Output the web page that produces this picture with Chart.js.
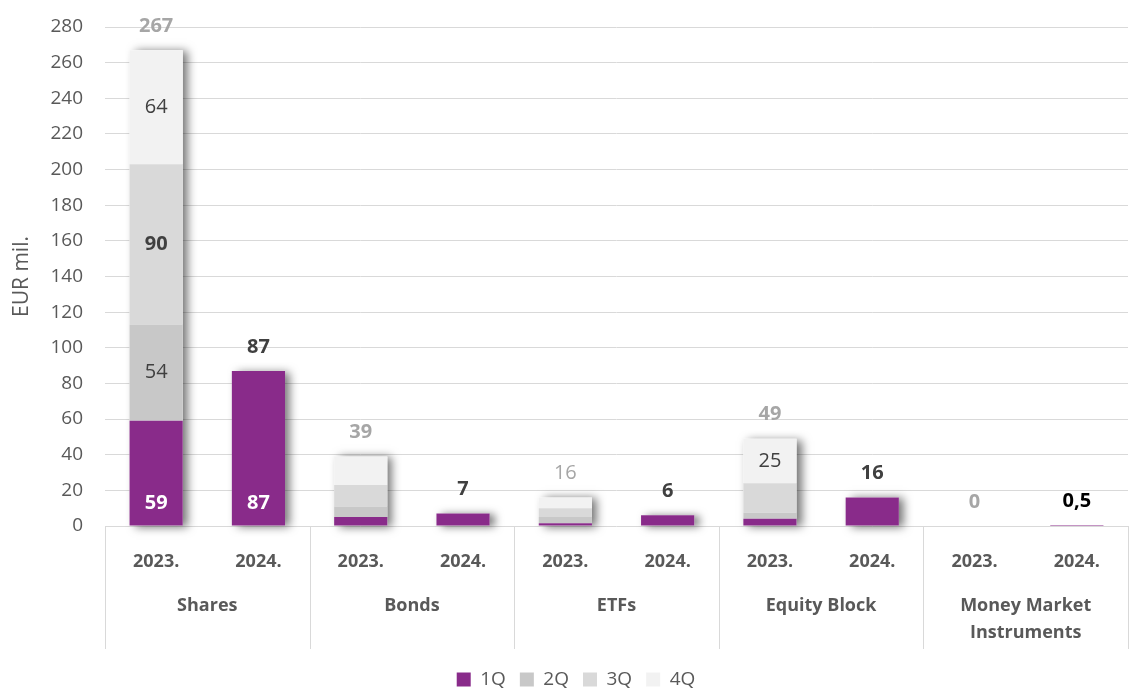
<!DOCTYPE html>
<html>
<head>
<meta charset="utf-8">
<script src="https://cdn.jsdelivr.net/npm/chart.js@4"></script>
<style>
  html, body { margin: 0; padding: 0; background: #fff; }
  #wrap { width: 1137px; height: 691px; }
</style>
</head>
<body>
<div id="wrap"><canvas id="chart"></canvas></div>
<script>
// Values (EUR mil.)
const years = ['2023.', '2024.', '2023.', '2024.', '2023.', '2024.', '2023.', '2024.', '2023.', '2024.'];
const groups = ['Shares', 'Bonds', 'ETFs', 'Equity Block', ['Money Market', 'Instruments']];
const quarters = ['1Q', '2Q', '3Q', '4Q'];
const q1 = [59, 87, 5, 7, 1.5, 6, 4, 16, 0, 0.5];
const q2 = [54, 0, 6, 0, 3.5, 0, 3.5, 0, 0, 0];
const q3 = [90, 0, 12, 0, 5, 0, 16.5, 0, 0, 0];
const q4 = [64, 0, 16, 0, 6, 0, 25, 0, 0, 0];
const yTicks = [0, 20, 40, 60, 80, 100, 120, 140, 160, 180, 200, 220, 240, 260, 280];

// which segments carry a value label
const showSeg = [
    [true, true, false, false, false, false, false, false, false, false],
    [true, false, false, false, false, false, false, false, false, false],
    [true, false, false, false, false, false, false, false, false, false],
    [true, false, false, false, false, false, true, false, false, false]
];

const colors = ['#892B8A', '#C8C8C8', '#D9D9D9', '#F2F2F2'];
const FONT = '"Open Sans", sans-serif';

function fmt(v) {
    return String(Math.round(v * 10) / 10).replace('.', ',');
}

// Drop shadow behind each whole stack (drawn before the bars)
const shadowPlugin = {
    id: 'stackShadow',
    beforeDatasetsDraw(chart) {
        const ctx = chart.ctx;
        const metas = chart.data.datasets.map((d, i) => chart.getDatasetMeta(i));
        ctx.save();
        ctx.shadowColor = 'rgba(0,0,0,0.55)';
        ctx.shadowBlur = 9;
        ctx.shadowOffsetX = 5;
        ctx.shadowOffsetY = 1;
        ctx.fillStyle = '#ffffff';
        for (let i = 0; i < years.length; i++) {
            let top = Infinity, bottom = -Infinity, x = 0, w = 0;
            metas.forEach(m => {
                const el = m.data[i];
                if (!el) return;
                top = Math.min(top, el.y);
                bottom = Math.max(bottom, el.base);
                x = el.x; w = el.width;
            });
            if (bottom - top < 0.5) continue;
            ctx.fillRect(x - w / 2, top, w, bottom - top);
        }
        ctx.restore();
    }
};

// Value labels: segment labels and stack totals
const labelPlugin = {
    id: 'valueLabels',
    afterDatasetsDraw(chart) {
        const ctx = chart.ctx;
        const series = [q1, q2, q3, q4];
        ctx.save();
        ctx.textAlign = 'center';
        ctx.textBaseline = 'middle';
        for (let s = 0; s < 4; s++) {
            const meta = chart.getDatasetMeta(s);
            meta.data.forEach((el, i) => {
                if (!showSeg[s][i]) return;
                let y = (el.y + el.base) / 2;
                if (s === 0) {
                    ctx.fillStyle = '#ffffff';
                    ctx.font = 'bold 20px ' + FONT;
                    y = el.base - 22;
                } else {
                    ctx.fillStyle = '#404040';
                    ctx.font = (s === 2 ? 'bold ' : '') + '20px ' + FONT;
                }
                ctx.fillText(fmt(series[s][i]), el.x, y);
            });
        }
        // totals above each stack
        const top = chart.getDatasetMeta(3).data;
        for (let i = 0; i < years.length; i++) {
            const total = q1[i] + q2[i] + q3[i] + q4[i];
            const ys = [0, 1, 2, 3].map(s => chart.getDatasetMeta(s).data[i].y);
            const y = Math.min.apply(null, ys) - 24;
            if (i % 2 === 0) {
                ctx.fillStyle = '#A6A6A6';
                ctx.font = (i === 4 ? '' : 'bold ') + '20px ' + FONT;
            } else {
                ctx.fillStyle = i === 9 ? '#000000' : '#404040';
                ctx.font = 'bold 20px ' + FONT;
            }
            ctx.fillText(fmt(total), top[i].x, y);
        }
        ctx.restore();
    }
};

// Separator lines of the two-level category axis
const groupLinesPlugin = {
    id: 'groupLines',
    afterLayout(chart) {
        // legend sits a little right of the canvas centre in the original
        chart.legend.left += 12;
        chart.legend.right += 12;
    },
    afterDraw(chart) {
        const ctx = chart.ctx;
        const area = chart.chartArea;
        const step = (area.right - area.left) / groups.length;
        ctx.save();
        ctx.strokeStyle = '#D9D9D9';
        ctx.lineWidth = 1;
        for (let i = 0; i <= groups.length; i++) {
            const x = Math.round(area.left + i * step) + 0.5;
            ctx.beginPath();
            ctx.moveTo(x, area.bottom);
            ctx.lineTo(x, area.bottom + 123);
            ctx.stroke();
        }
        ctx.restore();
    }
};

const datasets = [q1, q2, q3, q4].map((vals, k) => ({
    label: quarters[k],
    data: vals,
    backgroundColor: colors[k],
    borderWidth: 0,
    categoryPercentage: 1,
    barPercentage: 0.52
}));

new Chart(document.getElementById('chart'), {
    type: 'bar',
    data: { labels: years, datasets: datasets },
    options: {
        responsive: true,
        maintainAspectRatio: false,
        animation: false,
        layout: { padding: { top: 27, right: 9, left: 0, bottom: -8 } },
        plugins: {
            legend: {
                position: 'bottom',
                labels: {
                    boxWidth: 14, boxHeight: 14, padding: 14,
                    color: '#595959',
                    font: { family: FONT, size: 19 }
                }
            },
            tooltip: { enabled: false }
        },
        scales: {
            x: {
                stacked: true,
                grid: { display: false, drawTicks: false },
                border: { display: false },
                ticks: {
                    color: '#595959', padding: 25,
                    font: { family: FONT, size: 18, weight: 'bold' }
                },
                afterFit: s => { s.height = 60; }
            },
            groups: {
                type: 'category',
                position: 'bottom',
                labels: groups,
                offset: true,
                grid: { display: false, drawTicks: false },
                border: { display: false },
                ticks: {
                    color: '#595959', padding: 6,
                    font: { family: FONT, size: 18, weight: 'bold', lineHeight: 1.5 }
                },
                afterFit: s => { s.height = 70; }
            },
            y: {
                stacked: true,
                min: 0, max: 280,
                afterBuildTicks: s => { s.ticks = yTicks.map(v => ({ value: v })); },
                grid: { color: '#D9D9D9', drawTicks: true, tickLength: 22, tickColor: 'rgba(0,0,0,0)' },
                border: { display: false },
                ticks: {
                    color: '#595959', padding: 0,
                    font: { family: FONT, size: 19 }
                },
                title: {
                    display: true, text: 'EUR mil.',
                    color: '#595959',
                    font: { family: FONT, size: 21 },
                    padding: { top: 9, bottom: 0 }
                },
                afterFit: s => { s.width = 105; }
            }
        }
    },
    plugins: [shadowPlugin, labelPlugin, groupLinesPlugin]
});
</script>
</body>
</html>
